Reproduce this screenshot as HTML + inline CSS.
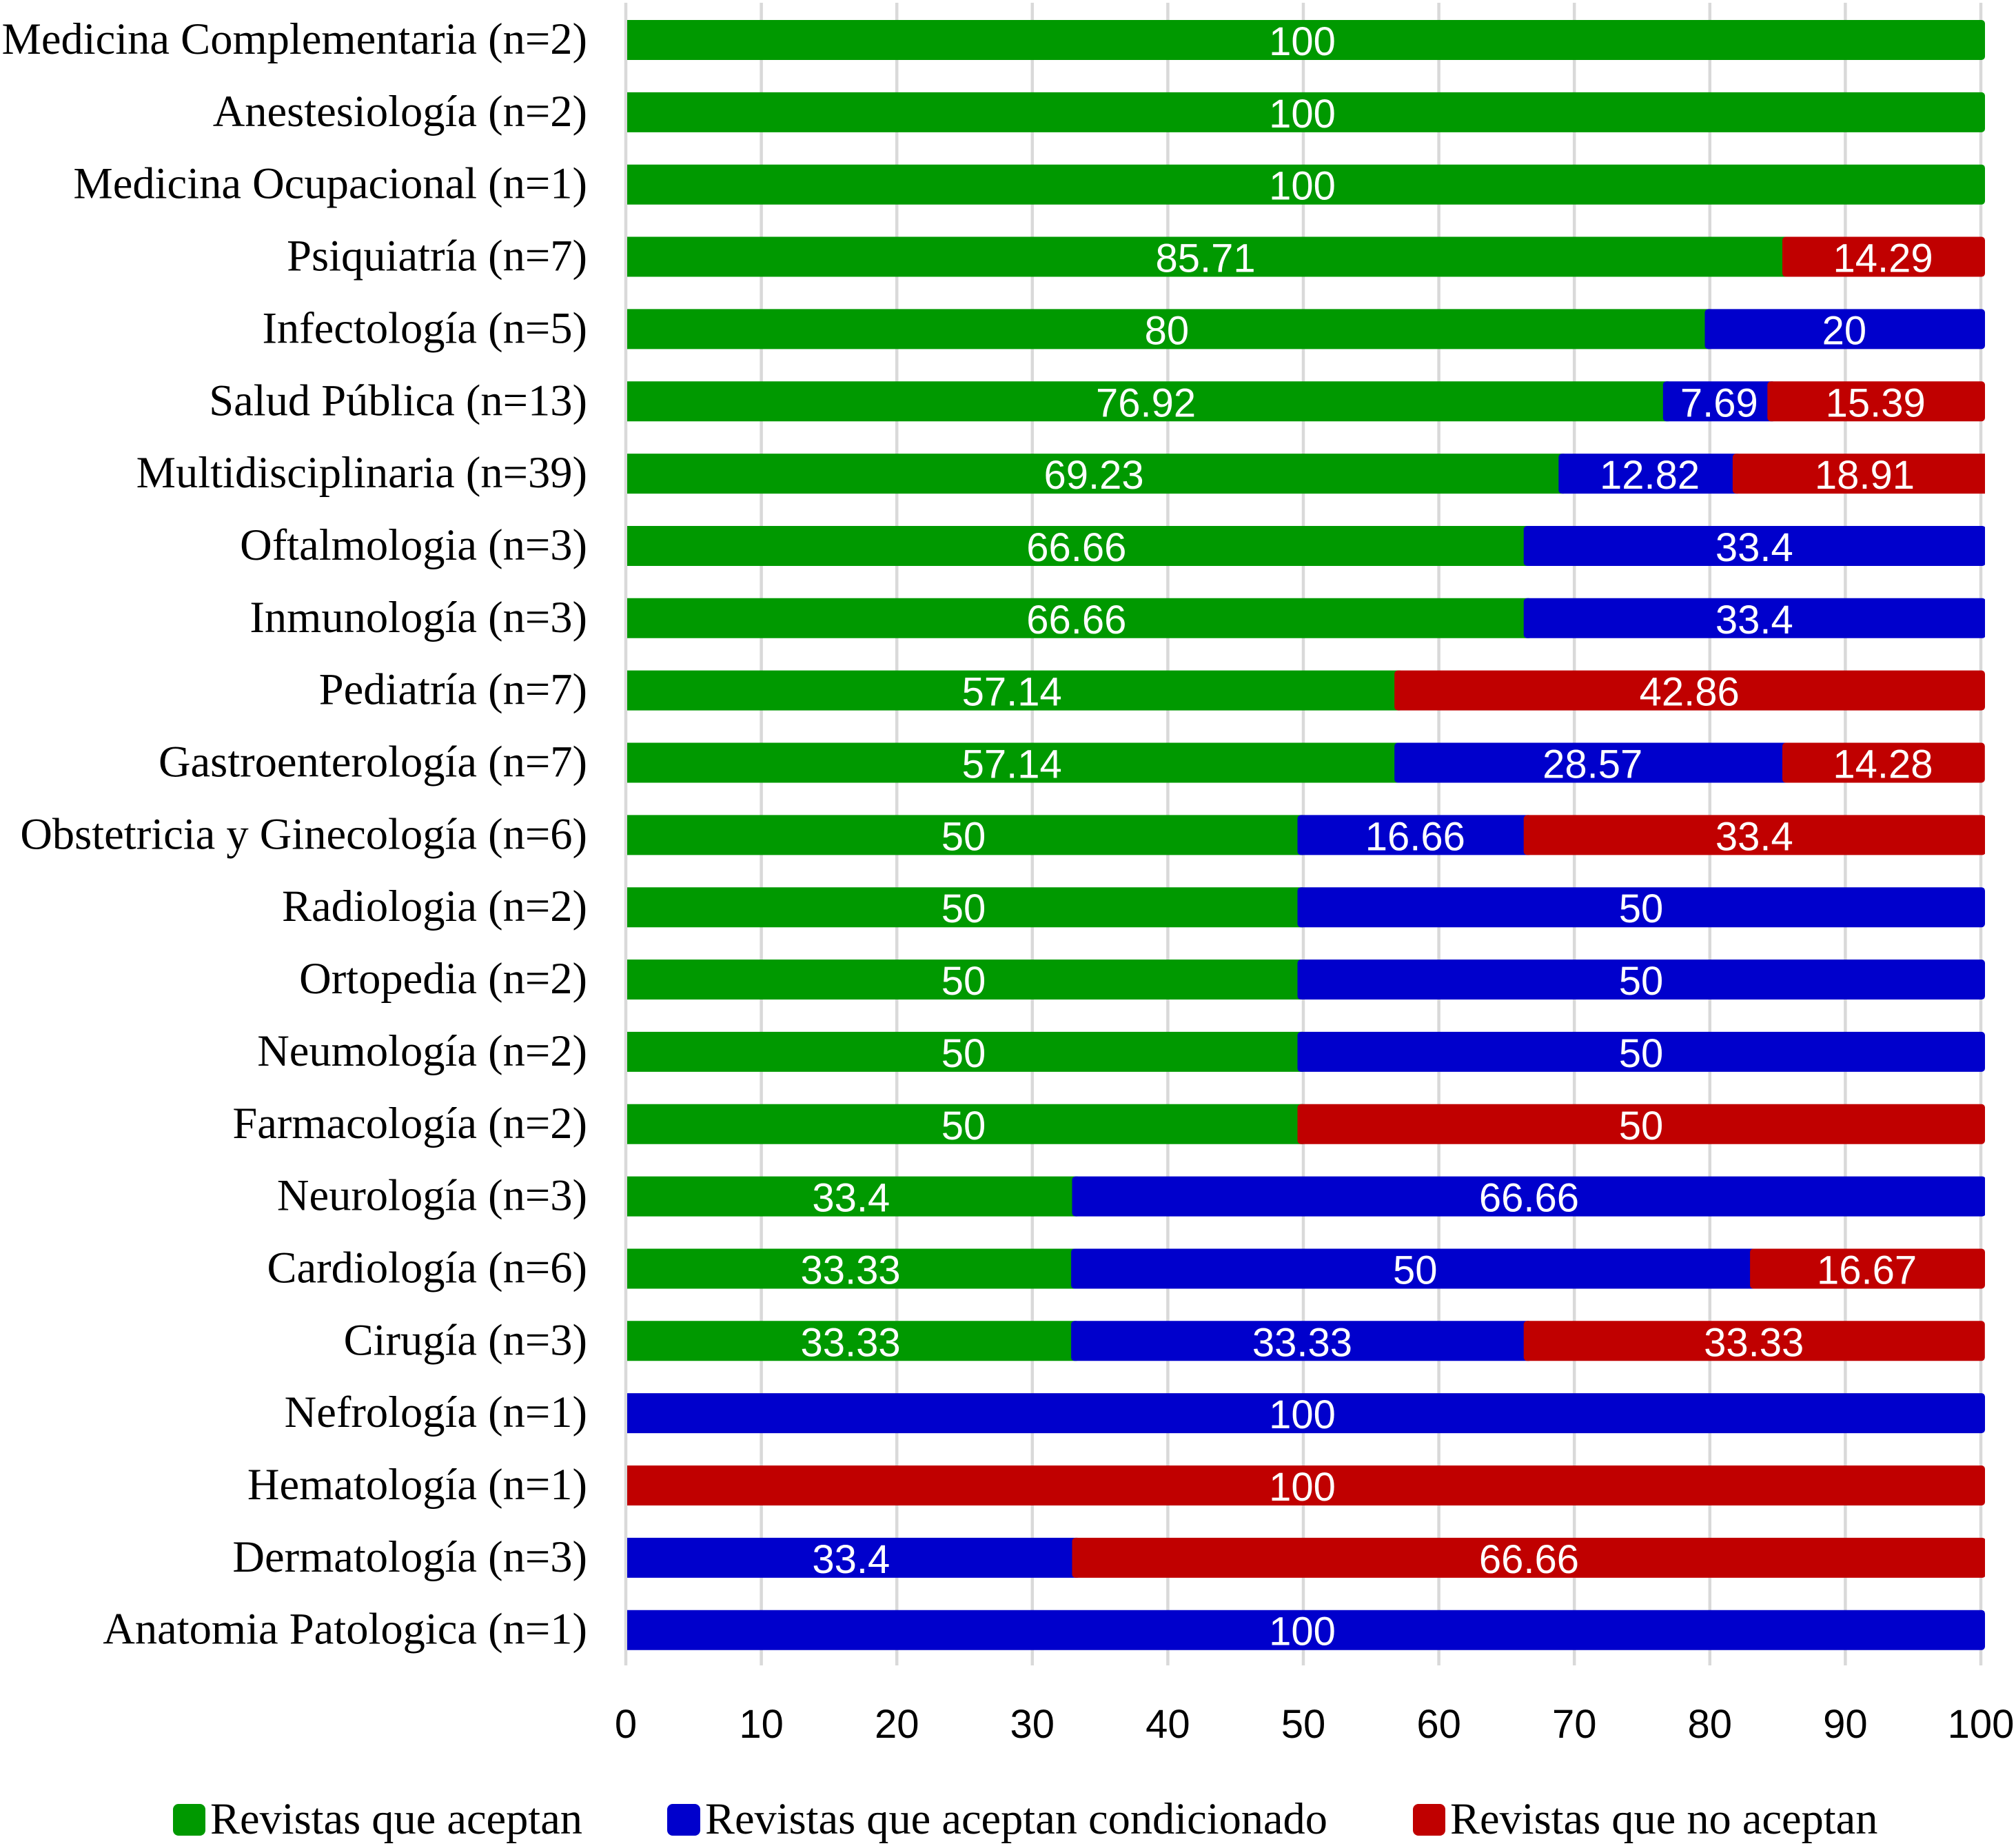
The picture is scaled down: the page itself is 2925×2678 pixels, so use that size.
<!DOCTYPE html>
<html lang="es">
<head>
<meta charset="utf-8">
<title>Revistas por especialidad</title>
<style>
html,body{margin:0;padding:0;background:#fff;}
svg{display:block;}
.cat{font-family:"Liberation Serif",serif;font-size:64.5px;fill:#000;text-anchor:end;}
.val{font-family:"Liberation Sans",sans-serif;font-size:58px;fill:#fff;text-anchor:middle;}
.tick{font-family:"Liberation Sans",sans-serif;font-size:58px;fill:#000;text-anchor:middle;}
.leg{font-family:"Liberation Serif",serif;font-size:64.4px;fill:#000;}
</style>
</head>
<body>
<svg id="chart" xmlns="http://www.w3.org/2000/svg" width="2925" height="2678" viewBox="0 0 2925 2678">
  <defs>
    <clipPath id="plot-clip"><rect x="910" y="0" width="1970" height="2678"/></clipPath>
  </defs>
  <rect x="0" y="0" width="2925" height="2678" fill="#ffffff"/>
  <g id="grid"></g>
  <g id="bars" clip-path="url(#plot-clip)"></g>
  <g id="labels"></g>
  <g id="cats"></g>
  <g id="ticks"></g>
  <g id="legend">
    <g>
      <rect x="251" y="2617" width="47" height="46" rx="8" fill="#009900"/>
      <text class="leg" x="305" y="2660">Revistas que aceptan</text>
    </g>
    <g>
      <rect x="968" y="2617" width="48" height="46" rx="8" fill="#0000cc"/>
      <text class="leg" x="1023" y="2660">Revistas que aceptan condicionado</text>
    </g>
    <g>
      <rect x="2050" y="2617" width="47" height="46" rx="8" fill="#c00000"/>
      <text class="leg" x="2104" y="2660">Revistas que no aceptan</text>
    </g>
  </g>
</svg>
<script>
const categories = [
  "Medicina Complementaria (n=2)","Anestesiología (n=2)","Medicina Ocupacional (n=1)",
  "Psiquiatría (n=7)","Infectología (n=5)","Salud Pública (n=13)",
  "Multidisciplinaria (n=39)","Oftalmologia (n=3)","Inmunología (n=3)",
  "Pediatría (n=7)","Gastroenterología (n=7)","Obstetricia y Ginecología (n=6)",
  "Radiologia (n=2)","Ortopedia (n=2)","Neumología (n=2)",
  "Farmacología (n=2)","Neurología (n=3)","Cardiología (n=6)",
  "Cirugía (n=3)","Nefrología (n=1)","Hematología (n=1)",
  "Dermatología (n=3)","Anatomia Patologica (n=1)"
];
const aceptan = [100,100,100,85.71,80,76.92,69.23,66.66,66.66,57.14,57.14,50,50,50,50,50,33.4,33.33,33.33,0,0,0,0];
const condicionado = [0,0,0,0,20,7.69,12.82,33.4,33.4,0,28.57,16.66,50,50,50,0,66.66,50,33.33,100,0,33.4,100];
const noAceptan = [0,0,0,14.29,0,15.39,18.91,0,0,42.86,14.28,33.4,0,0,0,50,0,16.67,33.33,0,100,66.66,0];
const xTicks = [0,10,20,30,40,50,60,70,80,90,100];

const NS = "http://www.w3.org/2000/svg";
const seriesColors = ["#009900","#0000cc","#c00000"];
const seriesKeys = ["aceptan","condicionado","no-aceptan"];
const seriesValues = [aceptan, condicionado, noAceptan];

function gridX(v){ return 908 + 19.66 * v; }
function barX(v){ return 897.5 + 19.7 * v; }
function rowY(i){ return 58 + 104.85 * i; }

const gridG = document.getElementById("grid");
const barsG = document.getElementById("bars");
const labelsG = document.getElementById("labels");
const catsG = document.getElementById("cats");
const ticksG = document.getElementById("ticks");

xTicks.forEach(function(t){
  const line = document.createElementNS(NS,"line");
  line.setAttribute("x1",gridX(t));
  line.setAttribute("x2",gridX(t));
  line.setAttribute("y1",4);
  line.setAttribute("y2",2416);
  line.setAttribute("stroke","#d9d9d9");
  line.setAttribute("stroke-width",4.5);
  
  
  gridG.appendChild(line);

  const txt = document.createElementNS(NS,"text");
  txt.setAttribute("class","tick");
  txt.setAttribute("x",gridX(t));
  txt.setAttribute("y",2521);
  txt.textContent = t;
  
  
  ticksG.appendChild(txt);
});

categories.forEach(function(name,i){
  const cat = document.createElementNS(NS,"text");
  cat.setAttribute("class","cat");
  cat.setAttribute("x",852);
  cat.setAttribute("y",rowY(i)+20);
  cat.textContent = name;
  
  
  catsG.appendChild(cat);

  let cum = 0;
  seriesValues.forEach(function(vals,s){
    const v = vals[i];
    if(!v) return;
    const rect = document.createElementNS(NS,"rect");
    const left = barX(cum);
    const right = barX(cum+v) + 12.5;
    rect.setAttribute("x",left);
    rect.setAttribute("y",rowY(i)-29);
    rect.setAttribute("width",right-left);
    rect.setAttribute("height",58);
    rect.setAttribute("rx",5);
    rect.setAttribute("fill",seriesColors[s]);
    
    
    barsG.appendChild(rect);

    const lab = document.createElementNS(NS,"text");
    lab.setAttribute("class","val");
    lab.setAttribute("x",gridX(cum+v/2)-1.5);
    lab.setAttribute("y",rowY(i)+22);
    lab.textContent = v;
    
    
    labelsG.appendChild(lab);
    cum += v;
  });
});
</script>
</body>
</html>
